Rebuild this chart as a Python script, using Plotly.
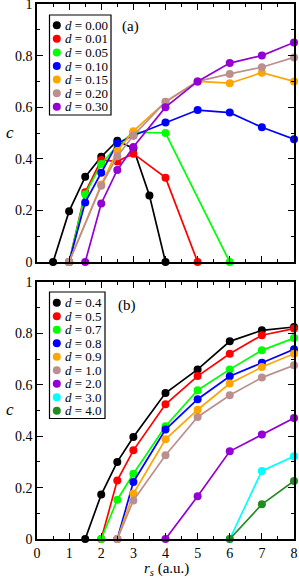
import plotly.graph_objects as go

# ---------------- data: panel (a) ----------------
a_labels = ["0.00", "0.01", "0.05", "0.10", "0.15", "0.20", "0.30"]
a_colors = ["#000000", "#ff0000", "#00ff00", "#0000ff", "#ffa500", "#bc8f8f", "#9400d3"]
a_x = [
    [0.5, 1, 1.5, 2, 2.5, 3, 3.5, 4],
    [1, 1.5, 2, 2.5, 3, 4, 5],
    [1, 1.5, 2, 2.5, 3, 4, 6],
    [1, 1.5, 2, 2.5, 3, 4, 5, 6, 7, 8],
    [1, 2, 2.5, 3, 4, 5, 6, 7, 8],
    [1, 2, 2.5, 3, 4, 5, 6, 7, 8],
    [1.5, 2, 2.5, 3, 4, 5, 6, 7, 8],
]
a_y = [
    [0, 0.197, 0.33, 0.408, 0.47, 0.44, 0.258, 0],
    [0, 0.27, 0.395, 0.39, 0.42, 0.327, 0],
    [0, 0.263, 0.38, 0.45, 0.503, 0.50, 0],
    [0, 0.231, 0.346, 0.46, 0.49, 0.541, 0.589, 0.579, 0.522, 0.476],
    [0, 0.30, 0.43, 0.507, 0.62, 0.70, 0.693, 0.734, 0.70],
    [0, 0.296, 0.41, 0.49, 0.621, 0.70, 0.729, 0.755, 0.793],
    [0, 0.227, 0.357, 0.446, 0.60, 0.70, 0.771, 0.80, 0.851],
]

# ---------------- data: panel (b) ----------------
b_labels = ["0.4", "0.5", "0.7", "0.8", "0.9", "1.0", "2.0", "3.0", "4.0"]
b_colors = ["#000000", "#ff0000", "#00ff00", "#0000ff", "#ffa500", "#bc8f8f",
            "#9400d3", "#00ffff", "#228b22"]
b_x = [
    [1.5, 2, 2.5, 3, 4, 5, 6, 7, 8],
    [2, 2.5, 3, 4, 5, 6, 7, 8],
    [2, 2.5, 3, 4, 5, 6, 7, 8],
    [2.5, 3, 4, 5, 6, 7, 8],
    [2.5, 3, 4, 5, 6, 7, 8],
    [2.5, 3, 4, 5, 6, 7, 8],
    [4, 5, 6, 7, 8],
    [6, 7, 8],
    [6, 7, 8],
]
b_y = [
    [0, 0.173, 0.30, 0.397, 0.568, 0.66, 0.769, 0.812, 0.825],
    [0, 0.228, 0.345, 0.524, 0.634, 0.721, 0.793, 0.819],
    [0, 0.153, 0.254, 0.439, 0.579, 0.66, 0.734, 0.782],
    [0, 0.222, 0.426, 0.544, 0.633, 0.686, 0.738],
    [0, 0.177, 0.388, 0.503, 0.605, 0.669, 0.721],
    [0, 0.15, 0.326, 0.475, 0.559, 0.628, 0.676],
    [0, 0.166, 0.341, 0.407, 0.471],
    [0, 0.265, 0.322],
    [0, 0.135, 0.226],
]

x_ticks = [0, 1, 2, 3, 4, 5, 6, 7, 8]
y_ticks = [0, 0.2, 0.4, 0.6, 0.8, 1]

# ---------------- layout geometry (pixels) ----------------
W_PX, H_PX = 299, 579
L, R, T, B = 37, 5, 4, 40
PW, PH = W_PX - L - R, H_PX - T - B


def px2x(px):
    return (px - L) / PW


def px2y(py):
    return 1 - (py - T) / PH


FONT = "Liberation Serif, Times New Roman, serif"

fig = go.Figure()
for xs, ys, col in zip(a_x, a_y, a_colors):
    fig.add_trace(go.Scatter(x=xs, y=ys, mode="lines+markers", xaxis="x", yaxis="y",
                             line=dict(color=col, width=1.7),
                             marker=dict(color=col, size=8),
                             cliponaxis=False, showlegend=False))
for xs, ys, col in zip(b_x, b_y, b_colors):
    fig.add_trace(go.Scatter(x=xs, y=ys, mode="lines+markers", xaxis="x2", yaxis="y2",
                             line=dict(color=col, width=1.7),
                             marker=dict(color=col, size=8),
                             cliponaxis=False, showlegend=False))

axis_common = dict(showline=True, linecolor="black", linewidth=1.6, mirror="allticks",
                   ticks="inside", ticklen=6, tickwidth=1.4, tickcolor="black",
                   showgrid=False, zeroline=False, automargin=False,
                   ticklabeloverflow="allow",
                   tickfont=dict(family=FONT, size=14, color="black"))

xa = dict(axis_common, range=[0, 8], tickvals=x_ticks,
          minor=dict(ticks="inside", ticklen=3.5, tickwidth=1.2, dtick=0.5, tickcolor="black"))
ya = dict(axis_common, range=[0, 1], tickvals=y_ticks,
          minor=dict(ticks="inside", ticklen=3.5, tickwidth=1.2, dtick=0.1, tickcolor="black"))

top_dom = [px2y(262), 1]
bot_dom = [0, px2y(282)]

fig.update_layout(
    width=W_PX, height=H_PX,
    margin=dict(l=L, r=R, t=T, b=B, autoexpand=False),
    paper_bgcolor="white", plot_bgcolor="white",
    font=dict(family=FONT, color="black"),
    xaxis=dict(xa, anchor="y", showticklabels=False),
    yaxis=dict(ya, domain=top_dom, anchor="x"),
    xaxis2=dict(xa, anchor="y2"),
    yaxis2=dict(ya, domain=bot_dom, anchor="x2"),
)

shapes, annotations = [], []


def add_legend(labels, colors, box, row0, dy, mark_x, text_x):
    x0, y0, x1, y1 = box
    shapes.append(dict(type="rect", xref="paper", yref="paper",
                       x0=px2x(x0), x1=px2x(x1), y0=px2y(y1), y1=px2y(y0),
                       line=dict(color="black", width=1.2), fillcolor="white", layer="above"))
    for i, (lab, col) in enumerate(zip(labels, colors)):
        yy = row0 + i * dy
        shapes.append(dict(type="circle", xref="paper", yref="paper",
                           xsizemode="pixel", ysizemode="pixel",
                           xanchor=px2x(mark_x), yanchor=px2y(yy),
                           x0=-4, x1=4, y0=-4, y1=4,
                           fillcolor=col, line=dict(color=col, width=0), layer="above"))
        annotations.append(dict(xref="paper", yref="paper", x=px2x(text_x), y=px2y(yy),
                                xanchor="left", yanchor="middle", showarrow=False,
                                text="<i>d</i> = " + lab, borderpad=0,
                                font=dict(family=FONT, size=13, color="black")))


add_legend(a_labels, a_colors, (49.5, 15, 111, 115), 25.2, 13.6, 56.8, 63.5)
add_legend(b_labels, b_colors, (49.5, 292, 105, 418.5), 302.8, 13.5, 56.8, 63.5)


def add_text(text, px, py, size):
    annotations.append(dict(xref="paper", yref="paper", x=px2x(px), y=px2y(py),
                            xanchor="center", yanchor="middle", showarrow=False, text=text,
                            borderpad=0, font=dict(family=FONT, size=size, color="black")))


add_text("(a)", 130.5, 27, 15)
add_text("(b)", 126.5, 305, 15)
add_text("<i>c</i>", 10, 132, 17)
add_text("<i>c</i>", 10, 409, 17)
add_text("<i>r<sub>s</sub></i> (a.u.)", 166, 568.5, 15)

fig.update_layout(shapes=shapes, annotations=annotations)
fig.write_html("out.html", config={"displayModeBar": False},
               post_script="document.body.style.margin='0';")
